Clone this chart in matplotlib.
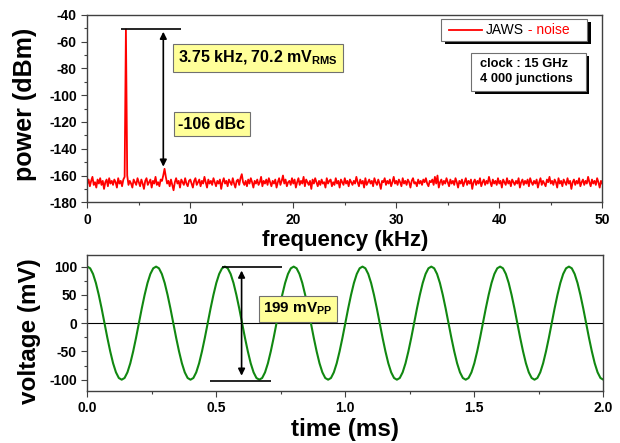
import matplotlib
matplotlib.use('Agg')
import matplotlib.pyplot as plt
import matplotlib.patheffects as pe
from matplotlib.patches import Rectangle
from matplotlib.lines import Line2D
from matplotlib.ticker import MultipleLocator
import numpy as np

plt.rcParams['font.family'] = ['Liberation Sans', 'DejaVu Sans']
plt.rcParams['font.weight'] = 'bold'
plt.rcParams['axes.unicode_minus'] = False
plt.rcParams['mathtext.fontset'] = 'custom'
plt.rcParams['mathtext.rm'] = 'Liberation Sans:bold'
plt.rcParams['mathtext.bf'] = 'Liberation Sans:bold'

# spectrum, 0 to 50 kHz in 0.125 kHz steps (dBm)
freq_step = 0.125
power_dbm = [
    -166, -163, -168, -164, -161, -167, -165, -169, -163, -166, -162, -167, -164, -170, -165, -163, -168, -162, -166, -164,
    -167, -163, -165, -169, -162, -166, -164, -168, -163, -161, -51, -160, -167, -164, -166, -169, -163, -165, -167, -162,
    -165, -168, -163, -166, -170, -164, -162, -167, -165, -163, -169, -164, -166, -161, -167, -165, -168, -163, -164, -160,
    -155, -161, -166, -164, -168, -163, -167, -171, -165, -162, -166, -164, -169, -163, -165, -167, -162, -166, -168, -164,
    -163, -166, -169, -164, -162, -167, -165, -163, -168, -164, -166, -161, -165, -169, -163, -166, -164, -167, -162, -165,
    -168, -164, -166, -163, -170, -165, -162, -166, -164, -168, -163, -165, -167, -162, -166, -169, -164, -163, -167, -162,
    -159, -165, -167, -164, -168, -163, -166, -162, -165, -169, -164, -166, -163, -167, -165, -161, -168, -164, -166, -163,
    -167, -162, -165, -168, -164, -166, -163, -169, -165, -162, -167, -164, -160, -166, -163, -168, -165, -164, -167, -162,
    -166, -163, -169, -165, -162, -167, -164, -166, -161, -168, -163, -165, -167, -164, -170, -163, -166, -162, -165, -168,
    -164, -167, -163, -166, -165, -169, -162, -166, -164, -163, -168, -165, -167, -162, -166, -164, -169, -163, -165, -167,
    -162, -166, -164, -168, -163, -165, -167, -164, -166, -161, -165, -168, -163, -166, -164, -169, -162, -167, -165, -163,
    -166, -164, -168, -162, -165, -167, -163, -166, -170, -164, -165, -162, -167, -164, -166, -163, -168, -165, -161, -166,
    -164, -167, -163, -165, -168, -162, -166, -164, -167, -163, -165, -169, -164, -162, -166, -165, -168, -163, -166, -164,
    -167, -163, -165, -162, -166, -168, -164, -165, -163, -167, -161, -166, -160, -169, -165, -163, -167, -164, -166, -162,
    -165, -168, -163, -166, -164, -167, -162, -165, -169, -164, -166, -163, -168, -165, -162, -167, -164, -166, -163, -170,
    -165, -163, -167, -164, -166, -162, -168, -165, -163, -167, -164, -166, -161, -165, -168, -163, -166, -164, -167, -162,
    -166, -164, -169, -163, -165, -167, -162, -166, -164, -168, -163, -165, -167, -164, -166, -162, -169, -165, -163, -167,
    -164, -166, -163, -168, -162, -165, -167, -164, -166, -163, -169, -165, -162, -167, -164, -166, -168, -163, -165, -161,
    -166, -164, -167, -163, -165, -169, -162, -166, -164, -168, -163, -165, -167, -162, -166, -164, -170, -165, -163, -167,
    -164, -166, -162, -168, -165, -163, -167, -164, -166, -161, -165, -168, -163, -166, -164, -167, -162, -165, -169, -164,
    -166,
]

# waveform, 0 to 2 ms (mV)
voltage_mv = [
    100, 97, 87, 71, 50, 26, 0, -26, -50, -71, -87, -97, -100, -97, -87, -71, -50, -26, 0, 26, 50, 71, 87, 97,
    100, 97, 87, 71, 50, 26, 0, -26, -50, -71, -87, -97, -100, -97, -87, -71, -50, -26, 0, 26, 50, 71, 87, 97,
    100, 97, 87, 71, 50, 26, 0, -26, -50, -71, -87, -97, -100, -97, -87, -71, -50, -26, 0, 26, 50, 71, 87, 97,
    100, 97, 87, 71, 50, 26, 0, -26, -50, -71, -87, -97, -100, -97, -87, -71, -50, -26, 0, 26, 50, 71, 87, 97,
    100, 97, 87, 71, 50, 26, 0, -26, -50, -71, -87, -97, -100, -97, -87, -71, -50, -26, 0, 26, 50, 71, 87, 97,
    100, 97, 87, 71, 50, 26, 0, -26, -50, -71, -87, -97, -100, -97, -87, -71, -50, -26, 0, 26, 50, 71, 87, 97,
    100, 97, 87, 71, 50, 26, 0, -26, -50, -71, -87, -97, -100, -97, -87, -71, -50, -26, 0, 26, 50, 71, 87, 97,
    100, 97, 87, 71, 50, 26, 0, -26, -50, -71, -87, -97, -100,
]
t_end = 2.0

freq_khz = np.arange(len(power_dbm)) * freq_step
time_ms = np.linspace(0, t_end, len(voltage_mv))

spine_col = '#404040'

fig = plt.figure(figsize=(6.2, 4.43), dpi=100)
ax1 = fig.add_axes([0.1408, 0.5433, 0.8306, 0.4235])
ax2 = fig.add_axes([0.1408, 0.1174, 0.8323, 0.3063])

for ax in (ax1, ax2):
    for s in ax.spines.values():
        s.set_color(spine_col)
        s.set_linewidth(1.0)
    ax.tick_params(which='both', direction='out', color=spine_col, labelsize=10, width=0.8)
    ax.tick_params(which='major', length=4)
    ax.tick_params(which='minor', length=2.5)

# top: spectrum
ax1.plot(freq_khz, power_dbm, color='#ff0000', lw=1.3)
ax1.set_xlim(0, 50)
ax1.set_ylim(-180, -40)
ax1.xaxis.set_major_locator(MultipleLocator(10))
ax1.xaxis.set_minor_locator(MultipleLocator(5))
ax1.yaxis.set_major_locator(MultipleLocator(20))
ax1.yaxis.set_minor_locator(MultipleLocator(10))
ax1.set_xlabel('frequency (kHz)', fontsize=16, fontweight='bold')
ax1.set_ylabel('power (dBm)', fontsize=18, fontweight='bold')
ax1.xaxis.set_label_coords(0.5, -0.15)
ax1.yaxis.set_label_coords(-0.098, 0.52)

ax1.hlines(-50.5, 3.27, 9.1, color='k', lw=1.2)
ax1.annotate('', xy=(7.38, -52.7), xytext=(7.38, -153.4),
             arrowprops=dict(arrowstyle='<|-|>', color='k', lw=1.2, mutation_scale=10, shrinkA=0, shrinkB=0))

box = dict(boxstyle='square,pad=0.3', fc='#ffff99', ec='#707070', lw=0.8)
ax1.text(16.57, -72.3, r'3.75 kHz, 70.2 mV$_\mathrm{RMS}$', fontsize=11.5, fontweight='bold',
         ha='center', va='center', bbox=box)
ax1.text(12.09, -121.6, '-106 dBc', fontsize=11.5, fontweight='bold', ha='center', va='center', bbox=box)

# legend, drawn by hand so "- noise" can be red
shadow = [pe.SimplePatchShadow(offset=(2.5, -2.5), shadow_rgbFace='k', alpha=1.0), pe.Normal()]
ax1.add_patch(Rectangle((0.687, 0.861), 0.284, 0.116, transform=ax1.transAxes, fc='white',
                        ec='#707070', lw=0.8, zorder=5, path_effects=shadow))
ax1.add_line(Line2D([0.702, 0.767], [0.918, 0.918], transform=ax1.transAxes, color='#ff0000', lw=1.3, zorder=6))
jaws = ax1.text(0.774, 0.918, 'JAWS', transform=ax1.transAxes, fontsize=10, fontweight='normal',
                ha='left', va='center', zorder=6)
ax1.annotate(' - noise', xy=(1, 0), xycoords=jaws, fontsize=10, fontweight='normal', color='#ff0000',
             ha='left', va='bottom', zorder=6)

ax1.add_patch(Rectangle((0.746, 0.595), 0.222, 0.202, transform=ax1.transAxes, fc='white',
                        ec='#707070', lw=0.8, zorder=5, path_effects=shadow))
ax1.text(0.763, 0.696, 'clock : 15 GHz\n4 000 junctions', transform=ax1.transAxes, fontsize=9.3,
         fontweight='bold', ha='left', va='center', linespacing=1.35, zorder=6)

# bottom: waveform
ax2.axhline(0, color='k', lw=0.8)
ax2.plot(time_ms, voltage_mv, color='#118811', lw=1.5)
ax2.set_xlim(0, 2.0)
ax2.set_ylim(-120, 120)
ax2.xaxis.set_major_locator(MultipleLocator(0.5))
ax2.xaxis.set_minor_locator(MultipleLocator(0.25))
ax2.yaxis.set_major_locator(MultipleLocator(50))
ax2.yaxis.set_minor_locator(MultipleLocator(25))
ax2.xaxis.set_major_formatter(matplotlib.ticker.FormatStrFormatter('%.1f'))
ax2.set_xlabel('time (ms)', fontsize=17.5, fontweight='bold')
ax2.set_ylabel('voltage (mV)', fontsize=17.5, fontweight='bold')
ax2.xaxis.set_label_coords(0.5, -0.2)
ax2.yaxis.set_label_coords(-0.09, 0.44)

ax2.hlines(100, 0.521, 0.753, color='k', lw=1.2)
ax2.hlines(-102, 0.476, 0.711, color='k', lw=1.2)
ax2.annotate('', xy=(0.598, 93), xytext=(0.598, -93),
             arrowprops=dict(arrowstyle='<|-|>', color='k', lw=1.2, mutation_scale=10, shrinkA=0, shrinkB=0))
ax2.text(0.816, 25, r'199 mV$_\mathrm{PP}$', fontsize=11, fontweight='bold', ha='center', va='center', bbox=box)

fig.savefig('out.png', dpi=100)
